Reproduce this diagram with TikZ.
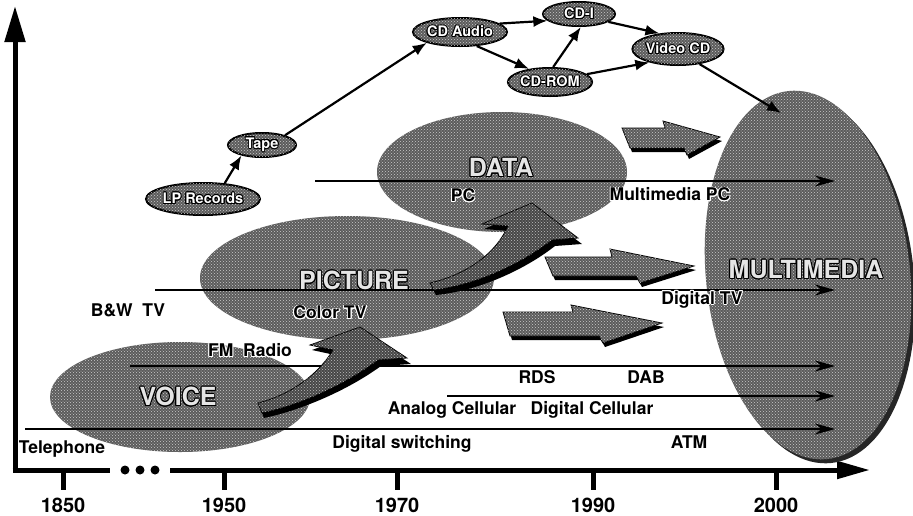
\documentclass[tikz,border=0pt]{standalone}
\usepackage{fontspec}
\setmainfont{TeX Gyre Heros}
\usepackage{contour}
\contourlength{0.9pt}
\usetikzlibrary{arrows.meta,patterns,shapes.geometric}
\begin{document}
\begin{tikzpicture}[x=1pt,y=-1pt,
  tex/.style={fill=black!64, postaction={pattern=crosshatch dots, pattern color=white!80!black}},
  texdark/.style={fill=black!72, postaction={pattern=crosshatch dots, pattern color=white!75!black}},
  blob/.style={ellipse, tex, inner sep=0pt, draw=none},
  smallell/.style={ellipse, tex, draw=black, line width=2pt, inner sep=0pt, text=white,
     font=\fontsize{14.5}{16}\selectfont\bfseries},
  chain/.style={line width=2.2pt, -{Latex[length=14pt,width=11pt]}},
  tline/.style={line width=1.3pt, -{Stealth[length=20pt,width=11pt]}},
  axisline/.style={line width=5pt},
  lab/.style={inner sep=0pt, font=\fontsize{17.5}{20}\selectfont\bfseries},
  year/.style={inner sep=0pt, font=\fontsize{20}{22}\selectfont\bfseries},
  big/.style={inner sep=0pt, text=white!90!black, font=\fontsize{25}{28}\selectfont\bfseries},
  blockshadow/.style={fill=black},
  block/.style={tex, draw=black, line width=0.8pt},
  blockdark/.style={texdark, draw=black, line width=0.8pt}
]
\useasboundingbox (0,0) rectangle (913,515);

% ---------- axes ----------
\coordinate (org) at (15,472.5);
\coordinate (ytop) at (15,6);
\draw[axisline, -{Triangle[length=36pt,width=20pt]}] (org) -- (ytop);
\coordinate (xa) at (12.5,470);
\coordinate (xb) at (110,470);
\coordinate (xc) at (170,470);
\coordinate (xend) at (870,470);
\draw[axisline] (xa) -- (xb);
\draw[axisline, -{Triangle[length=33pt,width=17pt]}] (xc) -- (xend);
\fill (125,470) circle[radius=4.5pt];
\fill (140,470) circle[radius=4.5pt];
\fill (155,470) circle[radius=4.5pt];
\foreach \xx/\yy in {63/1850,224/1950,397/1970,593/1990,776/2000}{
  \draw[line width=5pt] (\xx,470) -- (\xx,490);
  \node[year] (y\yy) at (\xx,505) {\yy};
}

% ---------- big ellipses ----------
\node[blob, minimum width=260pt, minimum height=110pt] (voice) at (180,397) {};
\node[blob, minimum width=294pt, minimum height=124pt] (picture) at (347,278) {};
\node[blob, minimum width=250pt, minimum height=120pt] (data) at (502,172) {};
\fill[black!85, rotate around={6:(812,279)}] (812,279) ellipse [x radius=102, y radius=185];
\node[blob, minimum width=204pt, minimum height=370pt, rotate=6] (mm) at (808,275) {};

% ---------- chain of media ----------
\node[smallell, minimum width=104pt, minimum height=32pt] (lp) at (203,199) {\contour{black}{LP Records}};
\node[smallell, minimum width=68pt, minimum height=24pt] (tape) at (262,145) {\contour{black}{Tape}};
\node[smallell, minimum width=94pt, minimum height=28pt] (cda) at (460,32) {\contour{black}{CD Audio}};
\node[smallell, minimum width=72pt, minimum height=24pt] (cdi) at (579,14) {\contour{black}{CD-I}};
\node[smallell, minimum width=84pt, minimum height=28pt] (cdrom) at (550,82) {\contour{black}{CD-ROM}};
\node[smallell, minimum width=80pt, minimum height=32pt] (vcd) at (678,49) {\contour{black}{Video CD}};
\coordinate (mmin) at (781,113);
\draw[chain] (lp.36) -- (tape.207);
\draw[chain] (tape.23) -- (cda.198);
\draw[chain] (cda.12) -- (cdi.192);
\draw[chain] (cda.-40) -- (cdrom.148);
\draw[chain] (cdrom.78) -- (cdi.-82);
\draw[chain] (cdi.-15) -- (vcd.140);
\draw[chain] (cdrom.12) -- (vcd.205);
\draw[chain] (vcd.-35) -- (mmin);

% ---------- time lines ----------
\coordinate (d0) at (315,181);   \coordinate (d1) at (835,181);
\coordinate (p0) at (155,290);   \coordinate (p1) at (835,290);
\coordinate (r0) at (130,366);   \coordinate (r1) at (835,366);
\coordinate (c0) at (447,396);   \coordinate (c1) at (835,396);
\coordinate (s0) at (25,429);    \coordinate (s1) at (835,429);
\draw[tline] (d0) -- (d1);
\draw[tline] (p0) -- (p1);
\draw[tline] (r0) -- (r1);
\draw[tline] (c0) -- (c1);
\draw[tline] (s0) -- (s1);

% ---------- block arrows ----------
\fill[blockshadow] (624,132) -- (667,132) -- (665,125) -- (722,141) -- (689,159) -- (686,152) -- (632,152) -- cycle;
\path[block] (622,128) -- (665,128) -- (663,121) -- (720,137) -- (687,155) -- (684,148) -- (630,148) -- cycle;
\fill[blockshadow] (547,261) -- (614,261) -- (612,253) -- (696,270) -- (642,287) -- (638,280) -- (555,280) -- cycle;
\path[block] (545,257) -- (612,257) -- (610,249) -- (694,266) -- (640,283) -- (636,276) -- (553,276) -- cycle;
\fill[blockshadow] (505,316) -- (575,316) -- (573,309) -- (664,327) -- (605,347) -- (601,340) -- (512,340) -- cycle;
\path[block] (503,312) -- (573,312) -- (571,305) -- (662,323) -- (603,343) -- (599,336) -- (510,336) -- cycle;

\fill[blockshadow] (260,408) .. controls (292,400) and (320,380) .. (335,355) -- (312,350) -- (362,332) -- (411,364) -- (381,366) .. controls (348,390) and (302,410) .. (264,418) -- cycle;
\path[blockdark] (258,403) .. controls (290,395) and (318,375) .. (333,350) -- (310,345) -- (360,327) -- (407,358) -- (378,360) .. controls (345,385) and (300,405) .. (262,413) -- cycle;
\fill[blockshadow] (432,288) .. controls (467,280) and (497,260) .. (510,231) -- (484,229) -- (534,208) -- (582,244) -- (555,246) .. controls (523,271) and (477,291) .. (436,295) -- cycle;
\path[blockdark] (430,283) .. controls (465,275) and (495,255) .. (508,226) -- (482,224) -- (532,203) -- (578,238) -- (552,240) .. controls (520,265) and (475,285) .. (434,290) -- cycle;

% ---------- labels ----------
\node[big] (tvoice) at (178,397) {\contour{black}{VOICE}};
\node[big] (tpicture) at (354,281) {\contour{black}{PICTURE}};
\node[big] (tdata) at (501,168) {\contour{black}{DATA}};
\node[big] (tmm) at (806,270) {\contour{black}{MULTIMEDIA}};

\node[lab] (tpc) at (463,196) {\contour{white}{PC}};
\node[lab] (tmpc) at (670,195) {\contour{white}{Multimedia PC}};
\node[lab] (tbw) at (128,310) {B\&W~~TV};
\node[lab] (tctv) at (330,313) {\contour{white}{Color TV}};
\node[lab] (tdtv) at (702,300) {\contour{white}{Digital TV}};
\node[lab] (tfm) at (250,351) {\contour{white}{FM~~Radio}};
\node[lab] (trds) at (537,377) {RDS};
\node[lab] (tdab) at (646,377) {DAB};
\node[lab] (tac) at (452,410) {Analog Cellular};
\node[lab] (tdc) at (592,410) {Digital Cellular};
\node[lab] (ttel) at (62,449) {\contour{white}{Telephone}};
\node[lab] (tds) at (402,444) {Digital switching};
\node[lab] (tatm) at (689,443) {\contour{white}{ATM}};
\end{tikzpicture}
\end{document}
